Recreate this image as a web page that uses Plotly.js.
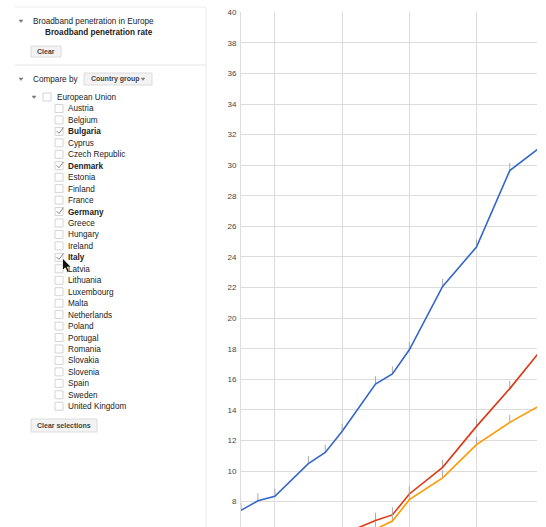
<!DOCTYPE html>
<html>
<head>
<meta charset="utf-8">
<script src="https://cdn.plot.ly/plotly-3.0.1.min.js"></script>
<style>html,body{margin:0;padding:0;background:#fff;overflow:hidden}#chart{width:546px;height:527px}</style>
</head>
<body>
<div id="chart"></div>
<script>
// ---- data ----
var datesDenmark = ['2003-07-01','2003-10-01','2004-01-01','2004-07-01','2004-10-01','2005-01-01','2005-07-01','2005-10-01','2006-01-01','2006-07-01','2007-01-01','2007-07-01','2008-01-01'];
var valuesDenmark = [7.43, 8.05, 8.35, 10.48, 11.22, 12.6, 15.69, 16.35, 17.93, 22.07, 24.65, 29.65, 31.35];
var datesGermany = ['2005-01-01','2005-07-01','2005-10-01','2006-01-01','2006-07-01','2007-01-01','2007-07-01','2008-01-01'];
var valuesGermany = [5.85, 6.77, 7.13, 8.5, 10.24, 12.92, 15.39, 18.13];
var datesItaly = ['2005-07-01','2005-10-01','2006-01-01','2006-07-01','2007-01-01','2007-07-01','2008-01-01'];
var valuesItaly = [6.2, 6.73, 8.13, 9.55, 11.73, 13.18, 14.42];
var yTicks = [8,10,12,14,16,18,20,22,24,26,28,30,32,34,36,38,40];

var panelTitle = 'Broadband penetration in Europe';
var panelSubtitle = 'Broadband penetration rate';
var groupName = 'European Union';
var countries = ['Austria','Belgium','Bulgaria','Cyprus','Czech Republic','Denmark','Estonia','Finland','France','Germany','Greece','Hungary','Ireland','Italy','Latvia','Lithuania','Luxembourg','Malta','Netherlands','Poland','Portugal','Romania','Slovakia','Slovenia','Spain','Sweden','United Kingdom'];
var selected = ['Bulgaria','Denmark','Germany','Italy'];

// ---- geometry helpers (pixel -> paper) ----
var L = 241, R = 537, T = 12, B = 527;
function px(x){ return (x - L) / (R - L); }
function py(y){ return (B - y) / (B - T); }
function path(pts, close){
  var s = pts.map(function(p,i){ return (i? 'L':'M') + px(p[0]).toFixed(5) + ',' + py(p[1]).toFixed(5); }).join(' ');
  return s + (close ? ' Z' : '');
}

var FONT = 'Liberation Sans, Arial, sans-serif';
var ann = [], shp = [];
function text(t, x, y, size, opts){
  opts = opts || {};
  ann.push({text:t, xref:'paper', yref:'paper', x:px(x), y:py(y), xanchor:opts.anchor||'left', yanchor:'middle',
    showarrow:false, font:{family:FONT, size:size, color:opts.color||'#222'}});
}
function rect(x0,y0,x1,y1,fill,line){
  shp.push({type:'rect', xref:'paper', yref:'paper', x0:px(x0), x1:px(x1), y0:py(y1), y1:py(y0),
    fillcolor:fill, line:{color:line, width:1}, layer:'above'});
}
function hline(x0,x1,y,c){ shp.push({type:'line', xref:'paper', yref:'paper', x0:px(x0), x1:px(x1), y0:py(y), y1:py(y), line:{color:c,width:1}}); }
function vline(x,y0,y1,c){ shp.push({type:'line', xref:'paper', yref:'paper', x0:px(x), x1:px(x), y0:py(y0), y1:py(y1), line:{color:c,width:1}}); }
function tri(x,y,s,c){ shp.push({type:'path', xref:'paper', yref:'paper', path:path([[x-s,y-s/2],[x+s,y-s/2],[x,y+s/2+0.5]],true), fillcolor:c, line:{color:c,width:0.5}}); }
function check(x,y){ shp.push({type:'path', xref:'paper', yref:'paper', path:path([[x+1,y+4],[x+3.5,y+6.5],[x+8,y+0.5]]), line:{color:'#888',width:1}}); }

// panel frame
hline(15, 206, 7, '#ececec');
hline(15, 206, 65, '#e6e6e6');
vline(206, 7, 527, '#ececec');

// header
tri(21, 21, 2, '#777');
text(panelTitle, 31, 21, 8.2);
text('<b>' + panelSubtitle + '</b>', 43, 33, 8.2);
rect(31, 46, 61, 57, '#f3f3f3', '#dcdcdc');
text('<b>Clear</b>', 46, 51.7, 7, {anchor:'center', color:'#444'});

// compare by
tri(21, 79, 2, '#777');
text('Compare by', 31, 79, 8.2);
rect(84, 73, 152, 85, '#f3f3f3', '#dcdcdc');
text('<b>Country group</b>', 89, 79.2, 7, {color:'#444'});
tri(143, 79, 1.8, '#777');

// European Union
tri(34, 97, 2, '#777');
rect(43, 93, 51, 101, '#fff', '#d4d4d4');
text(groupName, 54.5, 97, 8.2);

countries.forEach(function(c, i){
  var y = 109 + i * 11.45;
  rect(55, y-4.5, 63, y+3.5, '#fff', '#d4d4d4');
  var on = selected.indexOf(c) >= 0;
  if (on) check(55.5, y-5);
  text(on ? '<b>' + c + '</b>' : c, 65.5, y, 8.2);
});

rect(31, 419, 97, 432, '#f3f3f3', '#dcdcdc');
text('<b>Clear selections</b>', 64, 425.7, 7, {anchor:'center', color:'#444'});

// mouse pointer
shp.push({type:'path', xref:'paper', yref:'paper',
  path:path([[62.5,258],[62.5,270.5],[65.3,267.8],[67.3,272.5],[69.4,271.6],[67.4,267],[71.2,267]],true),
  fillcolor:'#111', line:{color:'#fff', width:0.8}});

function series(x, y, color){
  return {x:x, y:y, type:'scatter', mode:'lines', line:{color:color, width:1.6}, cliponaxis:true,
    error_y:{type:'constant', value:0.5, valueminus:0, symmetric:false, width:0, thickness:1, color:'#aaa'},
    hoverinfo:'skip'};
}
var traces = [
  series(datesDenmark, valuesDenmark, '#3366cc'),
  series(datesGermany, valuesGermany, '#dc3912'),
  series(datesItaly, valuesItaly, '#ff9900')
];

var layout = {
  width:546, height:527,
  margin:{l:L, r:546-R, t:T, b:0, pad:0},
  paper_bgcolor:'#fff', plot_bgcolor:'#fff',
  showlegend:false,
  xaxis:{type:'date', range:['2003-07-01','2007-11-26'], dtick:'M12', tick0:'2004-01-01',
    showgrid:true, gridcolor:'#dcdcdc', gridwidth:1, showticklabels:false, ticks:'', zeroline:false, showline:false},
  yaxis:{range:[6.34, 40.02], tickvals:yTicks, ticktext:yTicks.map(String), showgrid:true, gridcolor:'#dcdcdc',
    zeroline:false, showline:true, linecolor:'#dcdcdc', ticks:'', ticklabelstandoff:2,
    tickfont:{family:FONT, size:8, color:'#444'}},
  annotations:ann, shapes:shp
};
Plotly.newPlot('chart', traces, layout, {displayModeBar:false, staticPlot:true});
</script>
</body>
</html>
